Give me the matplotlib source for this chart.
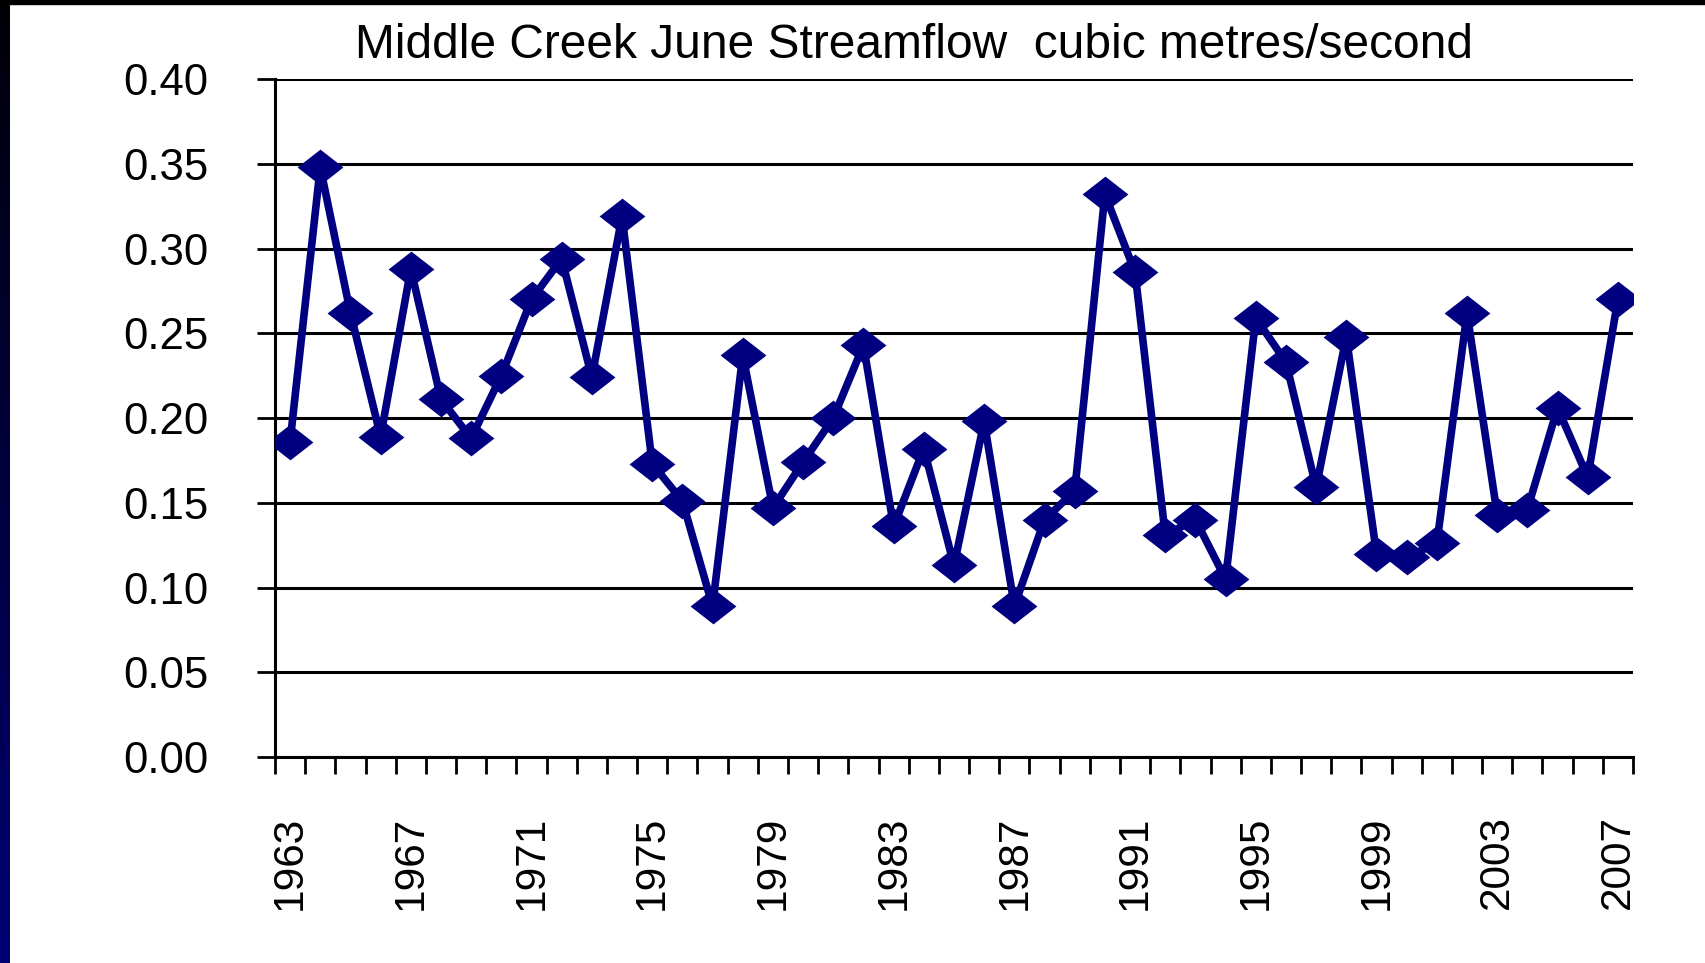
import numpy as np
import matplotlib.pyplot as plt
from matplotlib.path import Path
from matplotlib.patches import Rectangle

years = list(range(1963, 2008))
flow = [0.186, 0.348, 0.262, 0.189, 0.288, 0.211, 0.188, 0.225, 0.270, 0.294,
        0.224, 0.319, 0.173, 0.151, 0.089, 0.237, 0.147, 0.174, 0.200, 0.243,
        0.136, 0.182, 0.113, 0.198, 0.089, 0.140, 0.157, 0.332, 0.286, 0.131,
        0.140, 0.105, 0.259, 0.233, 0.159, 0.248, 0.120, 0.118, 0.126, 0.262,
        0.143, 0.146, 0.206, 0.165, 0.270]
y_ticks = [0.00, 0.05, 0.10, 0.15, 0.20, 0.25, 0.30, 0.35, 0.40]
label_years = years[::4]

plt.rcParams["font.family"] = ["Liberation Sans", "DejaVu Sans"]

fig = plt.figure(figsize=(17.05, 9.63), dpi=100)
ax = fig.add_axes([275 / 1705, 1 - 757 / 963, 1358 / 1705, 678 / 963])

# wide diamond like the Excel marker
diamond = Path([(-1, 0), (0, 0.78), (1, 0), (0, -0.78), (-1, 0)],
               [Path.MOVETO, Path.LINETO, Path.LINETO, Path.LINETO, Path.CLOSEPOLY])

x = np.arange(len(years))
ax.plot(x, flow, color="#000080", lw=5.5, marker=diamond, markersize=33,
        markeredgewidth=0, zorder=3)

ax.set_xlim(-0.5, len(years) - 0.5)
ax.set_ylim(0, 0.40)
ax.set_yticks(y_ticks)
ax.set_yticklabels([f"{v:.2f}" for v in y_ticks])
ax.tick_params(axis="y", length=13, width=2, color="black", pad=35, labelsize=31.5)

ax.set_xticks([years.index(yr) for yr in label_years])
ax.set_xticklabels([str(yr) for yr in label_years], rotation=90)
ax.tick_params(axis="x", which="major", length=0, pad=42, labelsize=30.5)
ax.set_xticks(np.arange(len(years) + 1) - 0.5, minor=True)
ax.tick_params(axis="x", which="minor", length=12, width=2, color="black")

ax.grid(axis="y", color="black", lw=2.2)
ax.set_axisbelow(True)
for side in ["top", "right"]:
    ax.spines[side].set_visible(False)
ax.spines["left"].set_linewidth(2.2)
ax.spines["bottom"].set_linewidth(2.2)

fig.text(914 / 1705, 1 - 46 / 963, "Middle Creek June Streamflow  cubic metres/second",
         ha="center", va="center", fontsize=34.5)

# dark slide border: black at the top fading to navy at the bottom
edge = fig.add_axes([0, 0, 10 / 1705, 1])
grad = np.linspace(0, 1, 256).reshape(-1, 1)
blue = 0.03 + 0.42 * grad
edge.imshow(np.dstack([np.zeros_like(grad), np.zeros_like(grad), blue]),
            aspect="auto", extent=[0, 1, 0, 1])
edge.axis("off")
fig.patches.append(Rectangle((0, 1 - 4 / 963), 1, 4 / 963, transform=fig.transFigure,
                             color="black", zorder=10))

fig.savefig("out.png", dpi=100)
